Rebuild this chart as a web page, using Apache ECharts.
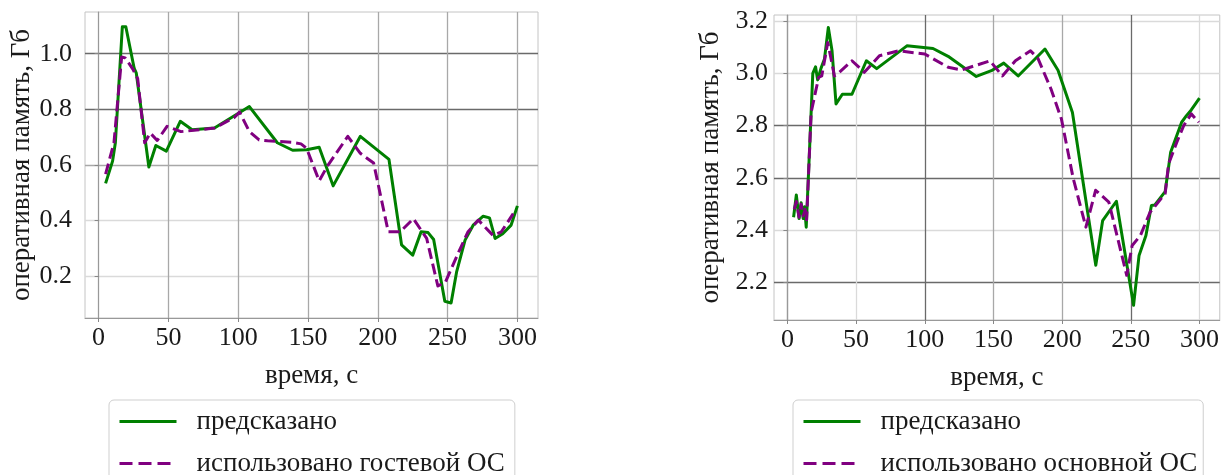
<!DOCTYPE html>
<html>
<head>
<meta charset="utf-8">
<script src="https://cdn.jsdelivr.net/npm/echarts@6/dist/echarts.min.js"></script>
<style>
  html, body { margin: 0; padding: 0; background: #fff; }
  #chart { width: 1222px; height: 475px; }
</style>
</head>
<body>
<div id="chart"></div>
<script>
// левый график — гостевая ОС
const guestPredT = [5, 10, 12, 17, 19.5, 25.5, 27, 36, 41, 48.5, 58.5, 67, 83, 108, 128, 139, 149, 158, 168, 187.5, 208, 217, 225, 231, 236, 240, 248, 252.5, 256.5, 262.5, 268.5, 275.5, 280, 284, 289.5, 295.5, 300]
const guestPredV = [0.534, 0.614, 0.68, 1.097, 1.097, 0.947, 0.93, 0.593, 0.67, 0.65, 0.757, 0.727, 0.733, 0.81, 0.68, 0.653, 0.655, 0.664, 0.525, 0.703, 0.62, 0.313, 0.276, 0.36, 0.357, 0.332, 0.11, 0.104, 0.217, 0.33, 0.385, 0.416, 0.41, 0.336, 0.353, 0.384, 0.453]
const guestUsedT = [5, 11, 16.5, 19, 24.5, 28, 33, 37, 42, 49, 59, 73, 83, 97, 101, 108, 115, 121, 138, 145, 149, 158, 164, 178.5, 187.5, 197, 207.5, 216, 225.5, 235, 243, 248.5, 258, 264.5, 272, 282.5, 288.5, 297]
const guestUsedV = [0.567, 0.68, 0.988, 0.985, 0.945, 0.91, 0.68, 0.715, 0.688, 0.739, 0.72, 0.727, 0.733, 0.77, 0.79, 0.72, 0.69, 0.687, 0.682, 0.676, 0.66, 0.543, 0.597, 0.703, 0.642, 0.607, 0.36, 0.36, 0.407, 0.336, 0.165, 0.18, 0.288, 0.359, 0.402, 0.347, 0.36, 0.425]

// правый график — основная ОС
const hostPredT = [4.5, 6.5, 8.5, 10, 11.5, 12.5, 13.7, 18.5, 20.5, 22, 24.5, 27, 29.8, 32.5, 35.4, 40, 47, 57.5, 65, 87, 106, 117, 137.5, 148.5, 157.5, 168, 187.5, 197, 207.5, 224.5, 229.5, 239.5, 252, 256, 261, 265, 267.5, 275, 279, 287, 290.5, 294, 300]
const hostPredV = [2.45, 2.535, 2.445, 2.505, 2.445, 2.49, 2.412, 3.0, 3.025, 2.975, 3.02, 3.055, 3.175, 3.086, 2.883, 2.92, 2.92, 3.048, 3.018, 3.105, 3.095, 3.065, 2.988, 3.01, 3.039, 2.99, 3.093, 3.012, 2.85, 2.266, 2.437, 2.511, 2.113, 2.304, 2.38, 2.495, 2.497, 2.548, 2.698, 2.813, 2.838, 2.86, 2.905]
const hostUsedT = [5, 6.5, 8.5, 10, 11.5, 13, 14, 17.3, 20.5, 22.8, 25, 29.4, 31.8, 34.2, 37, 47, 56, 67, 81, 100, 117, 127, 147.5, 156.5, 166, 177, 182.3, 191.9, 199.5, 208, 217.3, 224.4, 234, 247, 251, 257, 264, 275, 277.5, 283.5, 288.5, 294, 299.5]
const hostUsedV = [2.48, 2.51, 2.45, 2.5, 2.455, 2.48, 2.44, 2.851, 2.93, 2.985, 2.99, 3.118, 3.055, 2.99, 3.0, 3.048, 3.004, 3.067, 3.086, 3.074, 3.023, 3.013, 3.048, 2.99, 3.048, 3.086, 3.058, 2.94, 2.825, 2.6, 2.412, 2.553, 2.508, 2.228, 2.342, 2.38, 2.469, 2.54, 2.654, 2.737, 2.8, 2.845, 2.813]

const xTicks = [0, 50, 100, 150, 200, 250, 300]
const guestYTicks = [0.2, 0.4, 0.6, 0.8, 1.0]
const hostYTicks = [2.2, 2.4, 2.6, 2.8, 3.0, 3.2]

const legendPred = 'предсказано'
const legendGuest = 'использовано гостевой ОС'
const legendHost = 'использовано основной ОС'

const font = 'Liberation Serif'
const ink = '#1a1a1a'
const dark = '#6a6a6a'
const mid = '#a8a8a8'
const light = '#dadada'

function zip (t, v) {
  return t.map((x, i) => [x, v[i]])
}

function xAxis (gridIndex, colors) {
  return {
    type: 'value',
    gridIndex: gridIndex,
    min: -9.75,
    max: 314.75,
    name: 'время, с',
    nameLocation: 'middle',
    nameGap: 44,
    nameTextStyle: { fontFamily: font, fontSize: 27, color: ink },
    axisLine: { show: true, onZero: false, lineStyle: { color: '#999', width: 1 } },
    axisTick: { show: true, customValues: xTicks, length: 4, lineStyle: { color: '#888' } },
    axisLabel: { customValues: xTicks, fontFamily: font, fontSize: 26, color: ink, margin: 7 },
    splitLine: { show: true, lineStyle: { color: colors, width: 1.3 } }
  }
}

function yAxis (gridIndex, min, max, ticks, colors, labelMargin, nameGap) {
  return {
    type: 'value',
    gridIndex: gridIndex,
    min: min,
    max: max,
    name: 'оперативная память, Гб',
    nameLocation: 'middle',
    nameGap: nameGap,
    nameTextStyle: { fontFamily: font, fontSize: 27, color: ink },
    axisLine: { show: true, lineStyle: { color: '#999', width: 1 } },
    axisTick: { show: true, customValues: ticks, length: 4, lineStyle: { color: '#888' } },
    axisLabel: {
      customValues: ticks,
      fontFamily: font,
      fontSize: 26,
      color: ink,
      margin: labelMargin,
      formatter: v => v.toFixed(1)
    },
    splitLine: { show: true, lineStyle: { color: colors, width: 1.3 } }
  }
}

function line (name, data, axis, color, dashed) {
  return {
    name: name,
    type: 'line',
    xAxisIndex: axis,
    yAxisIndex: axis,
    data: data,
    symbol: 'none',
    lineStyle: { color: color, width: 3, type: dashed ? [11, 5] : 'solid', join: 'round' },
    itemStyle: { color: color }
  }
}

function legend (left, usedName, padRight) {
  return {
    orient: 'vertical',
    left: left,
    top: 400,
    height: 200,
    data: [
      { name: legendPred },
      { name: usedName, lineStyle: { type: [13, 6] } }
    ],
    itemWidth: 57,
    itemHeight: 14,
    itemGap: 15,
    padding: [8, padRight, 40, 9],
    backgroundColor: '#fff',
    borderColor: '#cfcfcf',
    borderWidth: 1,
    borderRadius: 5,
    selectedMode: false,
    itemStyle: { opacity: 0 },
    lineStyle: { width: 3 },
    textStyle: { fontFamily: font, fontSize: 27, color: ink, padding: [0, 0, 0, 15] }
  }
}

const option = {
  animation: false,
  backgroundColor: '#fff',
  grid: [
    { left: 85, top: 12, width: 453, height: 306, show: true, borderColor: '#c4c4c4', borderWidth: 1 },
    { left: 774, top: 15, width: 448, height: 305, show: true, borderColor: '#c4c4c4', borderWidth: 1 }
  ],
  xAxis: [
    xAxis(0, [mid]),
    xAxis(1, [dark, light, dark, mid, mid, dark, light])
  ],
  yAxis: [
    yAxis(0, 0.05, 1.15, guestYTicks, [light, light, mid, dark, dark], 13, 47),
    yAxis(1, 2.057, 3.223, hostYTicks, [dark, light, dark, dark, light, light], 6, 50)
  ],
  legend: [
    legend(109, legendGuest, 10),
    legend(793, legendHost, 6)
  ],
  series: [
    line(legendPred, zip(guestPredT, guestPredV), 0, '#008000', false),
    line(legendGuest, zip(guestUsedT, guestUsedV), 0, '#800080', true),
    line(legendPred, zip(hostPredT, hostPredV), 1, '#008000', false),
    line(legendHost, zip(hostUsedT, hostUsedV), 1, '#800080', true)
  ]
}

const chart = echarts.init(document.getElementById('chart'))
chart.setOption(option)
</script>
</body>
</html>
